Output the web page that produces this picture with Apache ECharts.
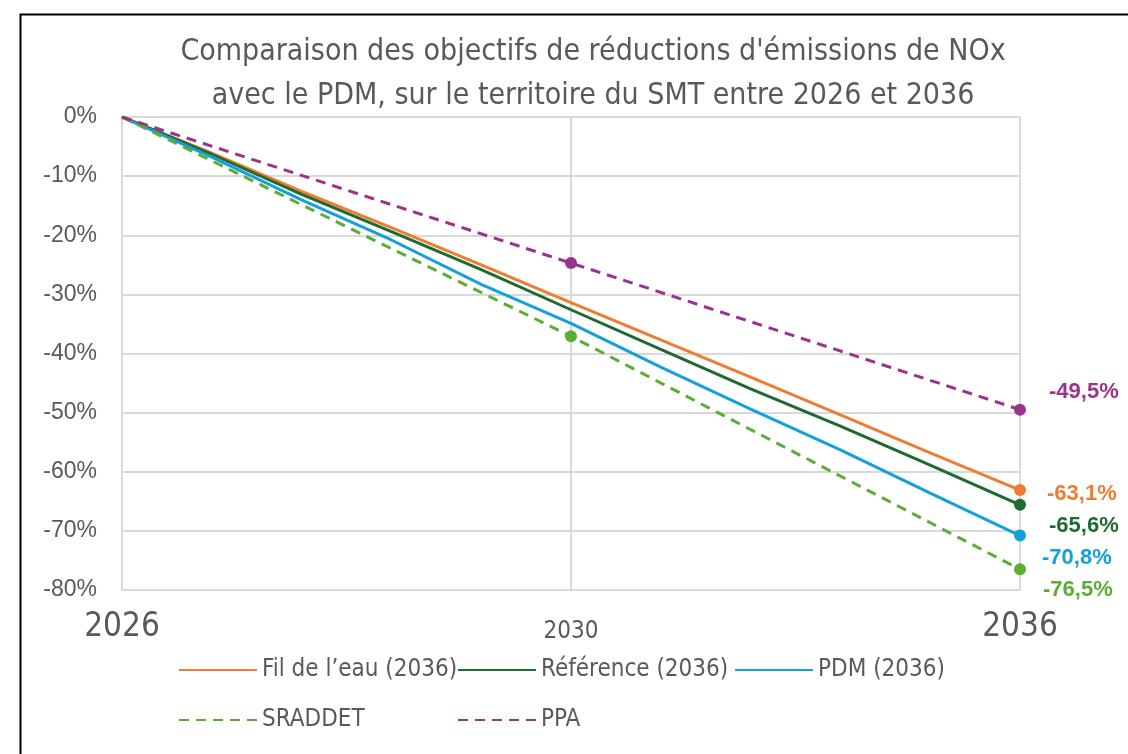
<!DOCTYPE html>
<html><head><meta charset="utf-8">
<script src="https://cdn.jsdelivr.net/npm/echarts@6/dist/echarts.min.js"></script>
<style>html,body{margin:0;padding:0;background:#fff}#c{width:1128px;height:754px}</style>
</head><body><div id="c"></div>
<script>
const chartTitle = "Comparaison des objectifs de réductions d'émissions de NOx\navec le PDM, sur le territoire du SMT entre 2026 et 2036";
const milestoneYears = ['2026', '2030', '2036'];
const annualYears = ['2026','2027','2028','2029','2030','2031','2032','2033','2034','2035','2036'];
const filDeLeau = [0, -6.1, -12.6, -18.7, -25.0, -31.4, -37.7, -44.0, -50.4, -56.8, -63.1];
const reference = [0, -6.3, -13.1, -19.4, -25.8, -32.6, -39.3, -46.0, -52.3, -58.9, -65.6];
const pdm = [0, -6.8, -14.0, -20.8, -28.3, -34.9, -42.3, -49.4, -56.3, -63.6, -70.8];
const sraddet = [0, -37.1, -76.5];
const ppa = [0, -24.7, -49.5];
const seriesNames = ['Fil de l’eau (2036)', 'Référence (2036)', 'PDM (2036)', 'SRADDET', 'PPA'];

const NARROW = "'Liberation Sans Narrow', 'DejaVu Sans Condensed', sans-serif";
const fmt = v => v.toFixed(1).replace('.', ',') + '%';

function mkSeries(name, data, axisIdx, color, dashed, labelOffset, markerFrom) {
  const last = data.length - 1;
  return {
    name, type: 'line', data, xAxisIndex: axisIdx, yAxisIndex: 0,
    symbol: 'circle',
    symbolSize: (v, p) => (p.dataIndex >= markerFrom ? 12 : 0),
    showSymbol: true, showAllSymbol: true,
    lineStyle: { color, width: 3, type: dashed ? [10, 7] : 'solid' },
    itemStyle: { color },
    label: {
      show: true, position: 'right', offset: labelOffset,
      formatter: p => (p.dataIndex === last ? fmt(p.value) : ''),
      color, fontFamily: 'Liberation Sans, Arial, sans-serif', fontWeight: 'bold', fontSize: 22
    },
    emphasis: { disabled: true },
    animation: false
  };
}

function mkLegend(name, left, top) {
  return {
    data: [name], left, top, itemWidth: 78, itemHeight: 12, padding: 0,
    itemStyle: { opacity: 0 },
    textStyle: { fontFamily: NARROW, fontSize: 24, color: '#595959' },
    selectedMode: false
  };
}

const chart = echarts.init(document.getElementById('c'), null, { renderer: 'canvas' });
chart.setOption({
  backgroundColor: '#fff',
  animation: false,
  title: {
    text: chartTitle, left: 588, top: 25, textAlign: 'center',
    textStyle: { fontFamily: NARROW, fontSize: 30, fontWeight: 'normal', color: '#595959', lineHeight: 44 }
  },
  graphic: [{
    type: 'rect', left: 18, top: 12, shape: { x: 0, y: 0, width: 1300, height: 900 },
    style: { fill: 'none', stroke: '#000', lineWidth: 2 }, silent: true, z: -10
  }],
  grid: { left: 122, right: 108, top: 117, bottom: 164, containLabel: false },
  legend: [
    mkLegend(seriesNames[0], 178, 658),
    mkLegend(seriesNames[1], 457, 658),
    mkLegend(seriesNames[2], 734, 658),
    mkLegend(seriesNames[3], 178, 708),
    mkLegend(seriesNames[4], 457, 708)
  ],
  xAxis: [{
    type: 'category', data: milestoneYears, boundaryGap: false,
    axisLine: { show: true, lineStyle: { color: '#d9d9d9', width: 2 } },
    axisTick: { show: false },
    splitLine: { show: true, lineStyle: { color: '#d9d9d9', width: 2 } },
    axisLabel: {
      margin: 14,
      formatter: v => (v === '2030' ? '{s|' + v + '}' : '{b|' + v + '}'),
      rich: {
        b: { fontFamily: NARROW, fontSize: 33, color: '#595959', lineHeight: 40, verticalAlign: 'bottom' },
        s: { fontFamily: NARROW, fontSize: 24, color: '#595959', lineHeight: 40, verticalAlign: 'bottom', padding: [4, 0, 0, 0] }
      }
    }
  }, {
    type: 'category', data: annualYears, boundaryGap: false, show: false
  }],
  yAxis: {
    type: 'value', min: -80, max: 0, interval: 10,
    axisLine: { show: true, lineStyle: { color: '#d9d9d9', width: 2 } },
    axisTick: { show: false },
    splitLine: { show: true, lineStyle: { color: '#d9d9d9', width: 2 } },
    axisLabel: { formatter: v => v + '%', margin: 25, fontFamily: 'Liberation Sans, Arial, sans-serif', fontSize: 23, color: '#595959' }
  },
  series: [
    mkSeries(seriesNames[0], filDeLeau, 1, '#ED7D31', false, [16, 4], 10),
    mkSeries(seriesNames[1], reference, 1, '#1E6B30', false, [18, 21], 10),
    mkSeries(seriesNames[2], pdm, 1, '#14A0DC', false, [11, 22], 10),
    mkSeries(seriesNames[3], sraddet, 0, '#5BAD33', true, [12, 21], 1),
    mkSeries(seriesNames[4], ppa, 0, '#9B338E', true, [18, -18], 1)
  ]
});
</script>
</body></html>
